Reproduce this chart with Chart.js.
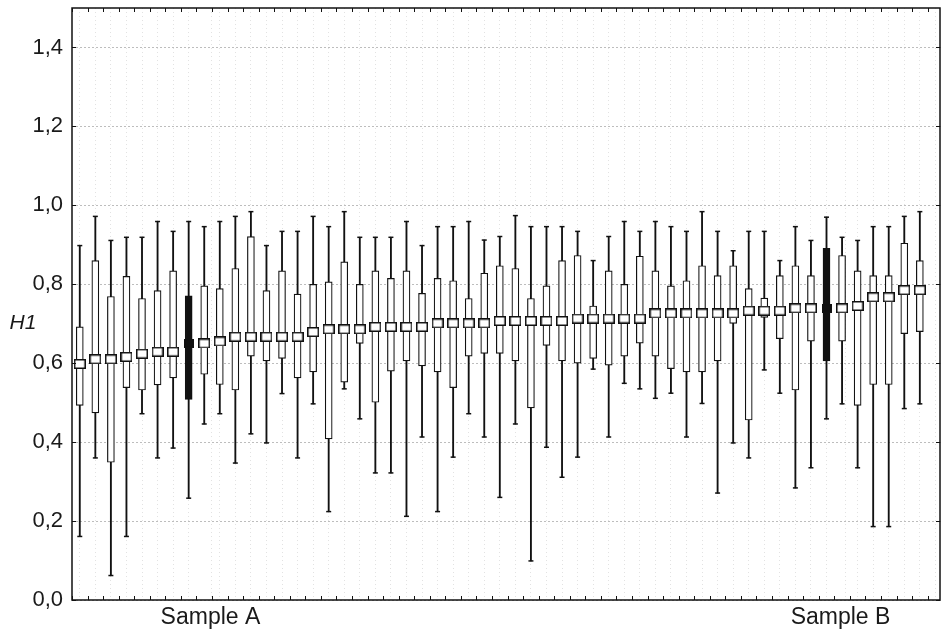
<!DOCTYPE html>
<html>
<head>
<meta charset="utf-8">
<script src="https://cdn.jsdelivr.net/npm/chart.js@4"></script>
<style>
  html, body { margin: 0; padding: 0; background: #fff; }
  #wrap { width: 941px; height: 633px; position: relative; }
</style>
</head>
<body>
<div id="wrap"><canvas id="boxChart"></canvas></div>
<script>
// box plot values, one entry per sample (left to right)
const whiskerHigh = [0.898, 0.972, 0.911, 0.919, 0.919, 0.959, 0.934, 0.959, 0.946, 0.959, 0.972, 0.984, 0.898, 0.934,
    0.934, 0.972, 0.946, 0.984, 0.919, 0.919, 0.919, 0.959, 0.898, 0.946, 0.946, 0.959, 0.912, 0.921, 0.974, 0.946,
    0.946, 0.946, 0.934, 0.860, 0.921, 0.959, 0.934, 0.959, 0.946, 0.934, 0.984, 0.934, 0.885, 0.934, 0.934, 0.860,
    0.946, 0.911, 0.970, 0.919, 0.911, 0.946, 0.946, 0.972, 0.984];
const q3 = [0.692, 0.860, 0.769, 0.820, 0.764, 0.784, 0.834, 0.771, 0.796, 0.789, 0.840, 0.921, 0.784, 0.834,
    0.775, 0.800, 0.806, 0.857, 0.800, 0.834, 0.815, 0.834, 0.777, 0.815, 0.809, 0.764, 0.828, 0.847, 0.840, 0.764,
    0.796, 0.860, 0.873, 0.745, 0.834, 0.800, 0.871, 0.834, 0.796, 0.809, 0.847, 0.822, 0.847, 0.789, 0.765, 0.822,
    0.847, 0.822, 0.891, 0.873, 0.834, 0.822, 0.822, 0.904, 0.860];
const median = [0.598, 0.610, 0.610, 0.616, 0.624, 0.629, 0.629, 0.650, 0.650, 0.655, 0.667, 0.667, 0.667, 0.667,
    0.667, 0.679, 0.686, 0.686, 0.686, 0.692, 0.692, 0.692, 0.692, 0.701, 0.701, 0.701, 0.701, 0.707, 0.707, 0.707,
    0.707, 0.707, 0.713, 0.713, 0.713, 0.713, 0.713, 0.726, 0.726, 0.726, 0.726, 0.726, 0.726, 0.733, 0.733, 0.733,
    0.739, 0.739, 0.739, 0.739, 0.745, 0.767, 0.767, 0.785, 0.785];
const q1 = [0.493, 0.474, 0.349, 0.538, 0.532, 0.545, 0.563, 0.508, 0.572, 0.546, 0.532, 0.618, 0.606, 0.612,
    0.563, 0.578, 0.408, 0.552, 0.650, 0.501, 0.580, 0.606, 0.593, 0.578, 0.538, 0.618, 0.625, 0.625, 0.606, 0.487,
    0.645, 0.606, 0.600, 0.612, 0.595, 0.618, 0.651, 0.618, 0.586, 0.578, 0.578, 0.606, 0.701, 0.456, 0.716, 0.662,
    0.532, 0.656, 0.606, 0.656, 0.493, 0.546, 0.546, 0.675, 0.680];
const whiskerLow = [0.161, 0.360, 0.062, 0.161, 0.472, 0.360, 0.385, 0.258, 0.446, 0.472, 0.347, 0.421, 0.398, 0.523,
    0.360, 0.497, 0.224, 0.535, 0.459, 0.322, 0.322, 0.212, 0.413, 0.224, 0.362, 0.472, 0.413, 0.260, 0.446, 0.099,
    0.387, 0.311, 0.362, 0.585, 0.413, 0.549, 0.535, 0.511, 0.524, 0.413, 0.498, 0.271, 0.398, 0.360, 0.583, 0.524,
    0.284, 0.335, 0.459, 0.497, 0.335, 0.186, 0.186, 0.485, 0.497];

// the two named samples are drawn in solid black
const highlighted = [7, 48];
const sampleLabels = ['Sample A', 'Sample B'];
const sampleLabelAt = [8.4, 48.9];
const yTicks = [0, 0.2, 0.4, 0.6, 0.8, 1.0, 1.2, 1.4];

const INK = '#111';
const FONT = "'Liberation Sans', Arial, sans-serif";

function isDark(i) {
    return highlighted.indexOf(i) !== -1;
}

// little canvas used as the median marker
function makeMarker(w, h, fill) {
    const c = document.createElement('canvas');
    c.width = w;
    c.height = h;
    const g = c.getContext('2d');
    g.fillStyle = fill;
    g.fillRect(0, 0, w, h);
    g.strokeStyle = INK;
    g.lineWidth = 1.5;
    g.strokeRect(0.75, 0.75, w - 1.5, h - 1.5);
    return c;
}
const whiteMarker = makeMarker(12, 10, '#fff');
const blackMarker = makeMarker(10, 9, INK);

const n = median.length;
const idx = median.map((v, i) => i);

const whiskerData = idx.map(i => ({ x: i, y: [whiskerLow[i], whiskerHigh[i]] }));
const boxData = idx.map(i => ({ x: i, y: [q1[i], q3[i]] }));
const capHigh = idx.map(i => ({ x: i, y: whiskerHigh[i] }));
const capLow = idx.map(i => ({ x: i, y: whiskerLow[i] }));
const medData = idx.map(i => ({ x: i, y: median[i] }));

// frame, inward tick marks and the horizontal "H1" title
const framePlugin = {
    id: 'frame',
    afterDatasetsDraw(chart) {
        const ctx = chart.ctx;
        const a = chart.chartArea;
        const xs = chart.scales.x;
        const ys = chart.scales.y;
        ctx.save();
        ctx.strokeStyle = INK;
        ctx.lineWidth = 1.5;
        ctx.strokeRect(a.left, a.top, a.right - a.left - 1, a.bottom - a.top);
        ctx.lineWidth = 1;
        ctx.beginPath();
        for (let i = 0; i <= n; i++) {
            const px = Math.round(xs.getPixelForValue(i - 0.5)) + 0.5;
            ctx.moveTo(px, a.bottom);
            ctx.lineTo(px, a.bottom - 4);
            ctx.moveTo(px, a.top);
            ctx.lineTo(px, a.top + 4);
        }
        yTicks.forEach(v => {
            const py = Math.round(ys.getPixelForValue(v)) + 0.5;
            ctx.moveTo(a.left, py);
            ctx.lineTo(a.left + 4, py);
            ctx.moveTo(a.right - 1, py);
            ctx.lineTo(a.right - 5, py);
        });
        ctx.stroke();
        ctx.fillStyle = '#1a1a1a';
        ctx.font = 'italic 21px ' + FONT;
        ctx.textAlign = 'center';
        ctx.textBaseline = 'middle';
        ctx.fillText('H1', 23, 323);
        ctx.restore();
    }
};

Chart.defaults.font.family = FONT;
Chart.defaults.font.size = 22;
Chart.defaults.color = '#1a1a1a';

new Chart(document.getElementById('boxChart').getContext('2d'), {
    type: 'bar',
    data: {
        datasets: [
            {
                type: 'line',
                data: medData,
                showLine: false,
                pointStyle: idx.map(i => isDark(i) ? blackMarker : whiteMarker),
                pointRadius: 5,
                order: 0
            },
            {
                type: 'line',
                data: capHigh,
                showLine: false,
                pointStyle: 'line',
                pointRadius: 2.5,
                borderColor: INK,
                pointBorderWidth: 1.5,
                order: 1
            },
            {
                type: 'line',
                data: capLow,
                showLine: false,
                pointStyle: 'line',
                pointRadius: 2.5,
                borderColor: INK,
                pointBorderWidth: 1.5,
                order: 1
            },
            {
                data: boxData,
                grouped: false,
                barThickness: 7,
                backgroundColor: idx.map(i => isDark(i) ? INK : '#fff'),
                borderColor: INK,
                borderWidth: 1.2,
                borderSkipped: false,
                order: 2
            },
            {
                data: whiskerData,
                grouped: false,
                barThickness: 1.2,
                backgroundColor: INK,
                borderWidth: 0,
                order: 3
            }
        ]
    },
    options: {
        responsive: true,
        maintainAspectRatio: false,
        animation: false,
        layout: { autoPadding: false, padding: { top: 8, right: 0, left: 0, bottom: 0 } },
        plugins: {
            legend: { display: false },
            tooltip: { enabled: false }
        },
        scales: {
            x: {
                type: 'linear',
                min: -0.5,
                max: 55.36,
                offset: false,
                afterBuildTicks: scale => {
                    const t = [];
                    for (let i = 0; i <= n; i++) t.push({ value: i - 0.5 });
                    sampleLabelAt.forEach(v => t.push({ value: v }));
                    t.sort((p, q) => p.value - q.value);
                    scale.ticks = t;
                },
                afterFit: scale => {
                    scale.height = 33;
                    scale.paddingLeft = 0;
                    scale.paddingRight = 0;
                },
                ticks: {
                    autoSkip: false,
                    maxRotation: 0,
                    padding: 4,
                    font: { size: 23 },
                    callback: v => {
                        const k = sampleLabelAt.indexOf(v);
                        return k === -1 ? '' : sampleLabels[k];
                    }
                },
                grid: {
                    drawTicks: false,
                    color: ctx => (ctx.tick && sampleLabelAt.indexOf(ctx.tick.value) !== -1) ? 'rgba(0,0,0,0)' : '#e2e2e2',
                    lineWidth: 1
                },
                border: { display: false, dash: [1, 3] }
            },
            y: {
                min: 0,
                max: 1.5,
                afterBuildTicks: scale => { scale.ticks = yTicks.map(v => ({ value: v })); },
                afterFit: scale => {
                    scale.width = 72;
                    scale.paddingTop = 0;
                    scale.paddingBottom = 0;
                },
                ticks: {
                    padding: 9,
                    callback: v => v.toFixed(1).replace('.', ',')
                },
                grid: {
                    drawTicks: false,
                    color: '#bdbdbd',
                    lineWidth: 1
                },
                border: { display: false, dash: [2, 2] }
            }
        }
    },
    plugins: [framePlugin]
});
</script>
</body>
</html>
